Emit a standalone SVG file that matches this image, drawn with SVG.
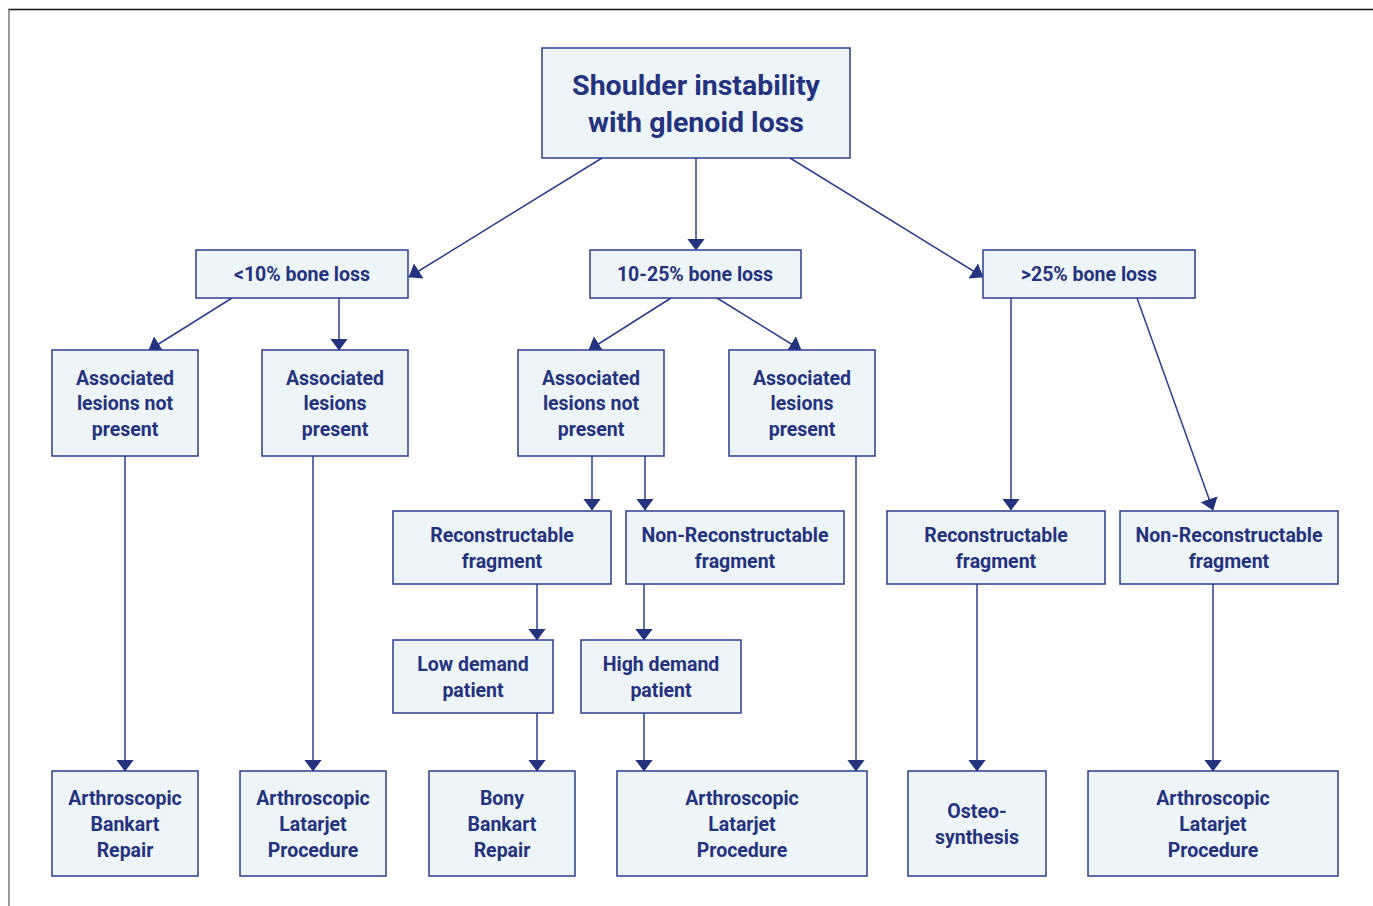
<svg xmlns="http://www.w3.org/2000/svg" width="1373" height="906" viewBox="0 0 1373 906">
<style>
.n rect{fill:#eef5f8;stroke:#2e3d8f;stroke-width:1.5}
.n text{font-family:Roboto,"Liberation Sans",sans-serif;font-weight:700;font-size:19.5px;fill:#25327e;text-anchor:middle}
.n text.big{font-size:28.5px}
#connectors line{stroke:#2e3d8f;stroke-width:1.5;marker-end:url(#ah)}
</style>
<defs>
<marker id="ah" markerUnits="userSpaceOnUse" markerWidth="12" markerHeight="18" viewBox="0 0 12 18" refX="11.5" refY="9" orient="auto">
<path d="M0,0 L12,9 L0,18 Z" fill="#25327e"/>
</marker>
</defs>
<rect x="0" y="0" width="1373" height="906" fill="#fff"/>
<line x1="8" y1="9.5" x2="1373" y2="9.5" stroke="#111" stroke-width="1.5"/>
<line x1="9" y1="9" x2="9" y2="906" stroke="#777" stroke-width="1.5"/>
<g id="connectors">
<line x1="602" y1="158" x2="409" y2="277"/>
<line x1="696" y1="158" x2="696" y2="250"/>
<line x1="790" y1="158" x2="983" y2="277"/>
<line x1="232" y1="298" x2="149" y2="350"/>
<line x1="339" y1="298" x2="339" y2="350"/>
<line x1="671" y1="298" x2="589" y2="350"/>
<line x1="717" y1="298" x2="801" y2="350"/>
<line x1="1011" y1="298" x2="1011" y2="510"/>
<line x1="1137" y1="298" x2="1213" y2="510"/>
<line x1="125" y1="456" x2="125" y2="771"/>
<line x1="313" y1="456" x2="313" y2="771"/>
<line x1="592" y1="456" x2="592" y2="510"/>
<line x1="645" y1="456" x2="645" y2="510"/>
<line x1="856" y1="456" x2="856" y2="771"/>
<line x1="537" y1="584" x2="537" y2="640"/>
<line x1="644" y1="584" x2="644" y2="640"/>
<line x1="537" y1="713" x2="537" y2="771"/>
<line x1="644" y1="713" x2="644" y2="771"/>
<line x1="977" y1="584" x2="977" y2="771"/>
<line x1="1213" y1="584" x2="1213" y2="771"/>
</g>
<g id="root" class="n"><rect x="542" y="48" width="308" height="110"/><text class="big" x="696" y="95">Shoulder instability</text><text class="big" x="696" y="132">with glenoid loss</text></g>
<g id="lt10" class="n"><rect x="196" y="250" width="212" height="48"/><text x="302" y="281">&lt;10% bone loss</text></g>
<g id="m1025" class="n"><rect x="590" y="250" width="211" height="48"/><text x="695" y="281">10-25% bone loss</text></g>
<g id="gt25" class="n"><rect x="983" y="250" width="212" height="48"/><text x="1089" y="281">&gt;25% bone loss</text></g>
<g id="alnp1" class="n"><rect x="52" y="350" width="146" height="106"/><text x="125" y="385">Associated</text><text x="125" y="410">lesions not</text><text x="125" y="436">present</text></g>
<g id="alp1" class="n"><rect x="262" y="350" width="146" height="106"/><text x="335" y="385">Associated</text><text x="335" y="410">lesions</text><text x="335" y="436">present</text></g>
<g id="alnp2" class="n"><rect x="518" y="350" width="146" height="106"/><text x="591" y="385">Associated</text><text x="591" y="410">lesions not</text><text x="591" y="436">present</text></g>
<g id="alp2" class="n"><rect x="729" y="350" width="146" height="106"/><text x="802" y="385">Associated</text><text x="802" y="410">lesions</text><text x="802" y="436">present</text></g>
<g id="rec2" class="n"><rect x="393" y="511" width="218" height="73"/><text x="502" y="542">Reconstructable</text><text x="502" y="568">fragment</text></g>
<g id="nrec2" class="n"><rect x="626" y="511" width="218" height="73"/><text x="735" y="542">Non-Reconstructable</text><text x="735" y="568">fragment</text></g>
<g id="rec3" class="n"><rect x="887" y="511" width="218" height="73"/><text x="996" y="542">Reconstructable</text><text x="996" y="568">fragment</text></g>
<g id="nrec3" class="n"><rect x="1120" y="511" width="218" height="73"/><text x="1229" y="542">Non-Reconstructable</text><text x="1229" y="568">fragment</text></g>
<g id="low" class="n"><rect x="393" y="640" width="160" height="73"/><text x="473" y="671">Low demand</text><text x="473" y="697">patient</text></g>
<g id="high" class="n"><rect x="581" y="640" width="160" height="73"/><text x="661" y="671">High demand</text><text x="661" y="697">patient</text></g>
<g id="abr" class="n"><rect x="52" y="771" width="146" height="105"/><text x="125" y="805">Arthroscopic</text><text x="125" y="831">Bankart</text><text x="125" y="857">Repair</text></g>
<g id="alp_a" class="n"><rect x="240" y="771" width="146" height="105"/><text x="313" y="805">Arthroscopic</text><text x="313" y="831">Latarjet</text><text x="313" y="857">Procedure</text></g>
<g id="bbr" class="n"><rect x="429" y="771" width="146" height="105"/><text x="502" y="805">Bony</text><text x="502" y="831">Bankart</text><text x="502" y="857">Repair</text></g>
<g id="alp_b" class="n"><rect x="617" y="771" width="250" height="105"/><text x="742" y="805">Arthroscopic</text><text x="742" y="831">Latarjet</text><text x="742" y="857">Procedure</text></g>
<g id="osteo" class="n"><rect x="908" y="771" width="138" height="105"/><text x="977" y="818">Osteo-</text><text x="977" y="844">synthesis</text></g>
<g id="alp_c" class="n"><rect x="1088" y="771" width="250" height="105"/><text x="1213" y="805">Arthroscopic</text><text x="1213" y="831">Latarjet</text><text x="1213" y="857">Procedure</text></g>
</svg>
